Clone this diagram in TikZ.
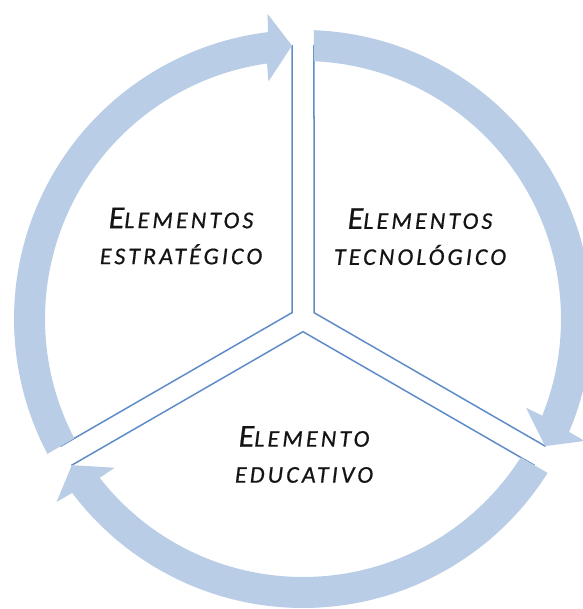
\documentclass[tikz,border=0pt]{standalone}
\usepackage{fontspec}
\newfontfamily\lblfont{Carlito}[LetterSpace=13,FakeBold=0.6]
\definecolor{bandblue}{RGB}{185,205,230}
\definecolor{lineblue}{RGB}{95,140,200}
\definecolor{txt}{RGB}{20,20,20}
\newcommand\bigini[1]{{\fontsize{32}{36}\selectfont #1}}
\newcommand\cyclearrow[2]{%
  \fill[band] ({#1-2.18}:289) arc[start angle={#1-2.18}, end angle={#2+7.0}, radius=289]
    -- ({#2+6.6}:307) -- ({#2+2.3}:273.5) -- ({#2+8.3}:240) -- ({#2+8.0}:258)
    arc[start angle={#2+8.0}, end angle={#1-2.44}, radius=258] -- cycle;}
\begin{document}
\begin{tikzpicture}[x=1pt,y=1pt,
  sepline/.style={draw=lineblue, line width=1.5pt, line join=miter},
  band/.style={fill=bandblue},
  lbl/.style={font=\lblfont\itshape\fontsize{24}{36}\selectfont, text=txt, align=center, inner sep=0pt}]
\useasboundingbox (0,0) rectangle (582,609);
\begin{scope}[shift={(303,290)}]
  % sector boundaries
  \draw[sepline] (92.3:274) -- (150:12.7) -- (207.7:274);
  \draw[sepline] (87.7:274) -- (30:12.7) -- (-27.7:274);
  \draw[sepline] (212.3:274) -- (270:12.7) -- (327.7:274);
  % circular arrows
  \cyclearrow{210}{90}
  \cyclearrow{90}{-30}
  \cyclearrow{-30}{-150}
\end{scope}
\node[lbl] (estr) at (181,373) {\bigini{E}LEMENTOS\\ESTRATÉGICO};
\node[lbl] (tecn) at (420,372.3) {\bigini{E}LEMENTOS\\TECNOLÓGICO};
\node[lbl] (educ) at (304,154.5) {\bigini{E}LEMENTO\\EDUCATIVO};
\end{tikzpicture}
\end{document}
